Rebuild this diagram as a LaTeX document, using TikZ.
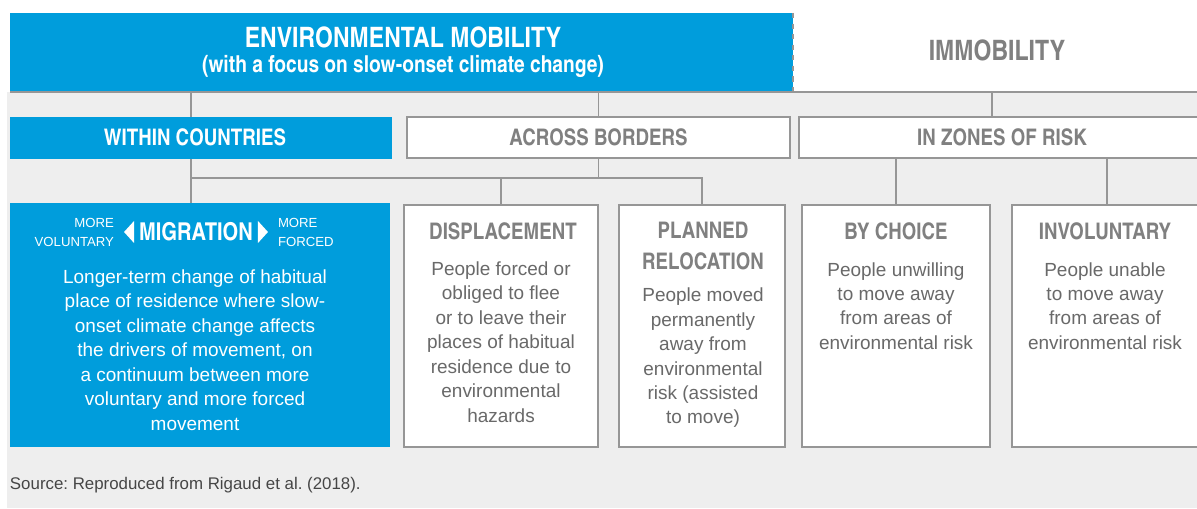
\documentclass[tikz,border=0pt]{standalone}
\usepackage{fontspec}
\setmainfont{Liberation Sans}
\newfontfamily\condfont{texgyreheroscn}[Extension=.otf,UprightFont=*-regular,BoldFont=*-bold]
\usepackage{tikz}
\usetikzlibrary{positioning}
\usetikzlibrary{shapes.geometric}
\frenchspacing
\definecolor{unblue}{RGB}{0,157,220}
\definecolor{panelgrey}{RGB}{238,238,238}
\definecolor{framegrey}{RGB}{150,150,150}
\definecolor{headgrey}{RGB}{128,128,128}
\definecolor{bodygrey}{RGB}{105,105,105}
\definecolor{notegrey}{RGB}{70,70,70}
\tikzstyle{every node}=[inner sep=0pt,outer sep=0pt]
\tikzstyle{link}=[draw=framegrey,line width=1.1pt]
\tikzstyle{bluebox}=[fill=unblue,anchor=north west]
\tikzstyle{whitebox}=[fill=white,draw=framegrey,line width=1.4pt,anchor=north west]
\tikzstyle{bighead}=[font=\condfont\bfseries\fontsize{16}{19}\selectfont]
\tikzstyle{subhead}=[font=\condfont\bfseries\fontsize{13.3}{16}\selectfont]
\tikzstyle{rowhead}=[font=\condfont\bfseries\fontsize{13}{16}\selectfont]
\tikzstyle{boxhead}=[font=\condfont\bfseries\fontsize{13}{17.6}\selectfont,align=center]
\tikzstyle{bodytext}=[font=\fontsize{10.8}{13.9}\selectfont,align=center]
\tikzstyle{smalltext}=[font=\fontsize{7.5}{10.8}\selectfont,text=white]
\tikzstyle{tip}=[isosceles triangle,isosceles triangle stretches,fill=white,minimum height=0.2cm,minimum width=0.44cm]

\begin{document}
\begin{tikzpicture}[x=0.02cm,y=-0.02cm]
\useasboundingbox (0,0) rectangle (1197,509);
\fill[white] (0,0) rectangle (1197,509);
\fill[panelgrey] (7,92) rectangle (1197,508);
% top row
\node[bluebox,minimum width=15.66cm,minimum height=1.58cm] (mobility) at (10,13) {};
\node[bighead,text=white] (mobtitle) at (403,37) {ENVIRONMENTAL MOBILITY};
\node[subhead,text=white] (mobsub) at (403,66) {(with a focus on slow-onset climate change)};
\node[bighead,text=headgrey] (immobility) at (997,50) {IMMOBILITY};
\coordinate (rowend) at (1197,92);
\draw[link] (mobility.south west) -- (rowend);
\draw[link,dashed] (mobility.north east) -- (mobility.south east);
% second row
\node[bluebox,minimum width=7.64cm,minimum height=0.84cm] (within) at (10,117) {};
\node[rowhead,text=white] (withintext) at (195,137) {WITHIN COUNTRIES};
\node[whitebox,rowhead,text=headgrey,minimum width=7.66cm,minimum height=0.82cm] (across) at (407,117) {ACROSS BORDERS};
\node[whitebox,rowhead,text=headgrey,minimum width=8.12cm,minimum height=0.82cm] (zones) at (799,117) {IN ZONES OF RISK};
\coordinate (wtop) at (191,92);
\coordinate (ztop) at (992,92);
\coordinate (bus) at (191,178);
\draw[link] (wtop) -- (wtop |- within.north);
\draw[link] (across.north) -- (across.north |- wtop);
\draw[link] (ztop) -- (ztop |- zones.north);
% third row
\node[bluebox,minimum width=7.6cm,minimum height=4.88cm] (migration) at (10,203) {};
\node[whitebox,minimum width=3.88cm,minimum height=4.84cm] (disp) at (404,205) {};
\node[whitebox,minimum width=3.32cm,minimum height=4.84cm] (planned) at (619,205) {};
\node[whitebox,minimum width=3.76cm,minimum height=4.84cm] (bychoice) at (802,205) {};
\node[whitebox,minimum width=3.8cm,minimum height=4.84cm] (involuntary) at (1012,205) {};
\draw[link] (wtop |- within.south) -- (wtop |- migration.north);
\draw[link] (bus) -| (planned.north);
\draw[link] (across.south) -- (across.south |- bus);
\draw[link] (disp.north) -- (disp.north |- bus);
\draw[link] (zones.south -| bychoice.north) -- (bychoice.north);
\draw[link] (zones.south -| involuntary.north) -- (involuntary.north);
% migration
\node[font=\condfont\bfseries\fontsize{14}{17}\selectfont,text=white] (migtitle) at (196,232) {MIGRATION};
\node[tip,shape border rotate=180,left=0.1cm of migtitle] (tipleft) {};
\node[tip,right=0.1cm of migtitle] (tipright) {};
\node[smalltext,align=right,anchor=east] (voluntary) at (114,232) {MORE\\VOLUNTARY};
\node[smalltext,align=left,anchor=west] (forced) at (278,232) {MORE\\FORCED};
\node[bodytext,text=white] (migtext) at (195,350) {Longer-term change of habitual\\place of residence where slow-\\onset climate change affects\\the drivers of movement, on\\a continuum between more\\voluntary and more forced\\movement};
% displacement
\node[boxhead,text=headgrey] (disptitle) at (503,231) {DISPLACEMENT};
\node[bodytext,text=bodygrey] (disptext) at (501,342) {People forced or\\obliged to flee\\or to leave their\\places of habitual\\residence due to\\environmental\\hazards};
% planned relocation
\node[boxhead,text=headgrey] (plantitle) at (703,246) {PLANNED\\RELOCATION};
\node[bodytext,text=bodygrey] (plantext) at (703,358) {People moved\\permanently\\away from\\environmental\\risk (assisted\\to move)};
% immobility
\node[boxhead,text=headgrey] (choicetitle) at (896,231) {BY CHOICE};
\node[bodytext,text=bodygrey] (choicetext) at (896,306) {People unwilling\\to move away\\from areas of\\environmental risk};
\node[boxhead,text=headgrey] (invtitle) at (1105,231) {INVOLUNTARY};
\node[bodytext,text=bodygrey] (invtext) at (1105,306) {People unable\\to move away\\from areas of\\environmental risk};
% source
\node[font=\fontsize{9.6}{11}\selectfont,text=notegrey,anchor=west] (source) at (10,485) {Source: Reproduced from Rigaud et al. (2018).};
\end{tikzpicture}
\end{document}
